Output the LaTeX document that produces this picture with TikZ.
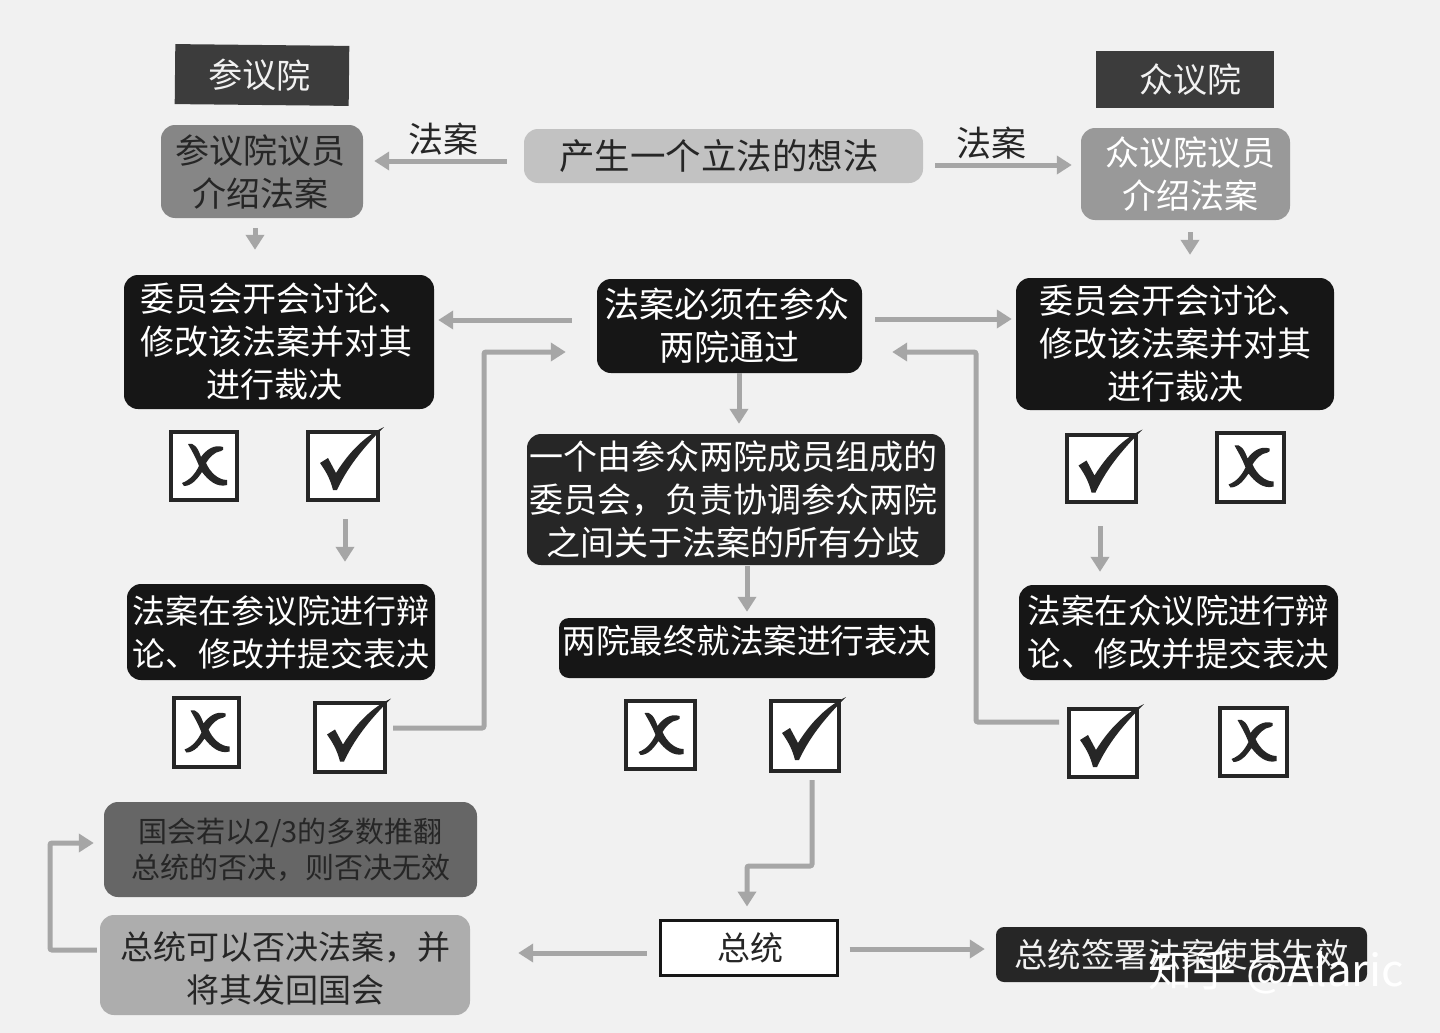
\documentclass[tikz,border=0pt]{standalone}
\usepackage{fontspec}
\setmainfont{Noto Sans CJK SC}
\usetikzlibrary{arrows.meta}
\definecolor{paper}{HTML}{F1F1F1}
\definecolor{linkgray}{HTML}{A6A6A6}
\definecolor{nearblack}{HTML}{161616}
\definecolor{ink}{HTML}{262626}
\newcommand{\fs}[1]{\fontsize{#1}{#1}\selectfont}
\tikzset{
  x=1pt,y=-1pt,
  boxbase/.style={inner sep=0pt,align=center,rounded corners=14pt},
  blackbox/.style={boxbase,fill=nearblack,text=white},
  darkbox/.style={boxbase,fill=#1,text=ink},
  header/.style={inner sep=0pt,fill=#1,text=paper,font=\fs{34}},
  link/.style={draw=linkgray,line width=5pt,-{Triangle[length=15pt,width=18pt,fill=linkgray]}},
  plainlink/.style={link,rounded corners=2pt},
  tickbox/.style={draw=ink,line width=4pt,fill=white,inner sep=0pt},
  tickmark/.pic={\fill[ink] (-23,-3) -- (-15,-8) -- (-7,7) .. controls (6,-14) and (22,-30) .. (41,-39) .. controls (24,-22) and (6,-2) .. (-6,24) -- (-10,24) .. controls (-13,12) and (-18,4) .. (-23,-3) -- cycle;},
  crossmark/.pic={\fill[ink] (-16,-22) .. controls (-10,-24) and (-6,-18) .. (-3,-9) .. controls (2,-16) and (10,-22) .. (19,-19) .. controls (20,-17) and (19,-15) .. (17,-15) .. controls (10,-14) and (5,-8) .. (2,-3) .. controls (6,6) and (14,14) .. (23,14) -- (23,19) .. controls (13,22) and (4,14) .. (-2,6) .. controls (-6,12) and (-12,20) .. (-20,20) -- (-22,17) .. controls (-14,14) and (-9,8) .. (-5,0) .. controls (-8,-8) and (-12,-15) .. (-16,-22) -- cycle;}
}
\newcommand{\tbox}[4]{\node[tickbox,minimum width=#3,minimum height=#4] (#1) at (#2) {};}
\begin{document}
\begin{tikzpicture}
\useasboundingbox[fill=paper] (0,0) rectangle (1440,1033);

% headers
\node[header=ink!90,rotate=-0.6,minimum width=174pt,minimum height=60pt] (senhead) at (262,75) {\hspace*{-4pt}参议院};
\node[header=ink!90,minimum width=178pt,minimum height=57pt] (rephead) at (1185,79.5) {\hspace*{10pt}众议院};

% top row
\node[darkbox=gray!95,minimum width=202pt,minimum height=93pt,font=\fontsize{34}{43}\selectfont] (senintro) at (262,171.5) {\hspace*{-4pt}参议院议员\\\hspace*{-4pt}介绍法案};
\node[boxbase,fill=black!40,text=white,minimum width=209pt,minimum height=92pt,font=\fontsize{34}{43}\selectfont] (repintro) at (1185.5,174) {\hspace*{10pt}众议院议员\\\hspace*{10pt}介绍法案};
\node[darkbox=black!24,minimum width=399pt,minimum height=54pt,font=\fs{35.5}] (idea) at (723.5,156) {\hspace*{-9pt}产生一个立法的想法};
\node[font=\fs{35},text=ink,inner sep=0pt] (lblL) at (443,139) {法案};
\node[font=\fs{35},text=ink,inner sep=0pt] (lblR) at (991,143) {法案};

% committees
\node[blackbox,minimum width=310pt,minimum height=134pt,font=\fontsize{34}{43}\selectfont] (sencomm) at (279,342) {\hspace*{-6pt}委员会开会讨论、\\\hspace*{-6pt}修改该法案并对其\\\hspace*{-10pt}进行裁决};
\node[blackbox,minimum width=318pt,minimum height=132pt,font=\fontsize{34}{43}\selectfont] (repcomm) at (1175,344) {委员会开会讨论、\\修改该法案并对其\\进行裁决};
\node[blackbox,minimum width=265pt,minimum height=94pt,font=\fontsize{35}{43}\selectfont] (both) at (729.5,326) {\hspace*{-5pt}法案必须在参众\\两院通过};
\node[boxbase,fill=ink,text=white,minimum width=418pt,minimum height=131pt,font=\fontsize{34}{43}\selectfont] (conf) at (736,499.5) {\hspace*{-6pt}一个由参众两院成员组成的\\\hspace*{-6pt}委员会，负责协调参众两院\\\hspace*{-6pt}之间关于法案的所有分歧};
\node[blackbox,minimum width=376pt,minimum height=60pt,font=\fs{33.5},rounded corners=10pt] (final) at (747,648) {两院最终就法案进行表决\rule[-18pt]{0pt}{18pt}};
\node[blackbox,minimum width=308pt,minimum height=96pt,font=\fontsize{33}{43}\selectfont] (sendeb) at (281,632) {法案在参议院进行辩\\论、修改并提交表决};
\node[blackbox,minimum width=319pt,minimum height=95pt,font=\fontsize{33.5}{43}\selectfont] (repdeb) at (1178.5,632.5) {法案在众议院进行辩\\论、修改并提交表决};

% tick boxes
\tbox{sx1}{204,466}{66pt}{68pt}
\tbox{sc1}{343,466}{70pt}{68pt}
\tbox{sx2}{206.5,732.5}{65pt}{69pt}
\tbox{sc2}{350,737.5}{70pt}{69pt}
\tbox{mx}{660.5,735}{69pt}{68pt}
\tbox{mc}{805,736}{68pt}{70pt}
\tbox{rc1}{1101.5,468.5}{69pt}{67pt}
\tbox{rx1}{1250.5,467.5}{67pt}{69pt}
\tbox{rc2}{1103,743}{68pt}{68pt}
\tbox{rx2}{1253.5,742}{67pt}{68pt}
\path (sx1) pic {crossmark} (sx2) pic {crossmark} (mx) pic {crossmark} (rx1) pic {crossmark} (rx2) pic {crossmark};
\path (sc1) pic {tickmark} (sc2) pic {tickmark} (mc) pic {tickmark} (rc1) pic {tickmark} (rc2) pic {tickmark};

% bottom
\node[darkbox=black!60,minimum width=373pt,minimum height=95pt,font=\fontsize{29}{36}\selectfont] (override) at (290.5,849.5) {国会若以2/3的多数推翻\\总统的否决，则否决无效};
\node[darkbox=black!32,minimum width=370pt,minimum height=100pt,font=\fontsize{33}{43}\selectfont] (veto) at (285,965) {\rule{0pt}{35pt}总统可以否决法案，并\\将其发回国会};
\node[draw=nearblack,line width=3pt,fill=white,text=ink,inner sep=0pt,minimum width=177pt,minimum height=55pt,font=\fs{33}] (pres) at (748.5,947.5) {\hspace*{4pt}总统};
\node[boxbase,fill=ink,text=paper,minimum width=371pt,minimum height=55pt,font=\fs{33.4},rounded corners=8pt] (sign) at (1181.5,954.5) {总统签署法案使其生效};
\node[text=white,font=\fs{44},inner sep=0pt] (mark) at (1276,972) {知乎 @Alaric};

% connectors
\draw[link,shorten <=17pt,shorten >=11pt] ([yshift=-5pt]idea.west) -- ([yshift=10.5pt]senintro.east);
\draw[link,shorten <=12pt,shorten >=9pt] ([yshift=-9pt]idea.east) -- ([yshift=9pt]repintro.west);
\draw[link,shorten <=10pt,shorten >=25pt] ([xshift=-7pt]senintro.south) -- ([xshift=-24pt]sencomm.north);
\draw[link,shorten <=12pt,shorten >=23pt] ([xshift=4.5pt]repintro.south) -- ([xshift=15pt]repcomm.north);
\draw[link,shorten <=25pt,shorten >=4pt] ([yshift=6pt]both.west) -- ([yshift=22pt]sencomm.east);
\draw[link,shorten <=13pt,shorten >=4pt] ([yshift=7pt]both.east) -- ([yshift=25pt]repcomm.west);
\draw[plainlink,shorten <=6pt,shorten >=31pt] (sc2.east |- 0,728) -- (484,728) -- (484,352) -- (both.west |- 0,352);
\draw[plainlink,shorten <=8pt,shorten >=30pt] (rc2.west |- 0,722) -- (976,722) -- (976,352) -- (both.east |- 0,352);
\draw[link,shorten <=0pt,shorten >=10pt] ([xshift=9.5pt]both.south) -- ([xshift=3pt]conf.north);
\draw[link,shorten <=1pt,shorten >=6pt] ([xshift=11pt]conf.south) -- (final.north);
\draw[link,shorten <=17pt,shorten >=22pt] ([xshift=2pt]sc1.south) -- ([xshift=64pt]sendeb.north);
\draw[link,shorten <=22pt,shorten >=13pt] ([xshift=-1.5pt]rc1.south) -- ([xshift=-78.5pt]repdeb.north);
\draw[plainlink,shorten <=7pt,shorten >=12pt] ([xshift=7pt]mc.south) -- (812,866) -- (747,866) -- ([xshift=-1.5pt]pres.north);
\draw[link,shorten <=12pt,shorten >=48pt] ([yshift=-5.5pt]pres.west) -- ([yshift=12pt]veto.east);
\draw[link,shorten <=11pt,shorten >=11pt] ([yshift=-1.5pt]pres.east) -- ([yshift=5.5pt]sign.west);
\draw[plainlink,shorten <=3pt,shorten >=10pt] ([yshift=15pt]veto.west) -- (50,950) -- (50,843) -- ([yshift=6.5pt]override.west);
\end{tikzpicture}
\end{document}
